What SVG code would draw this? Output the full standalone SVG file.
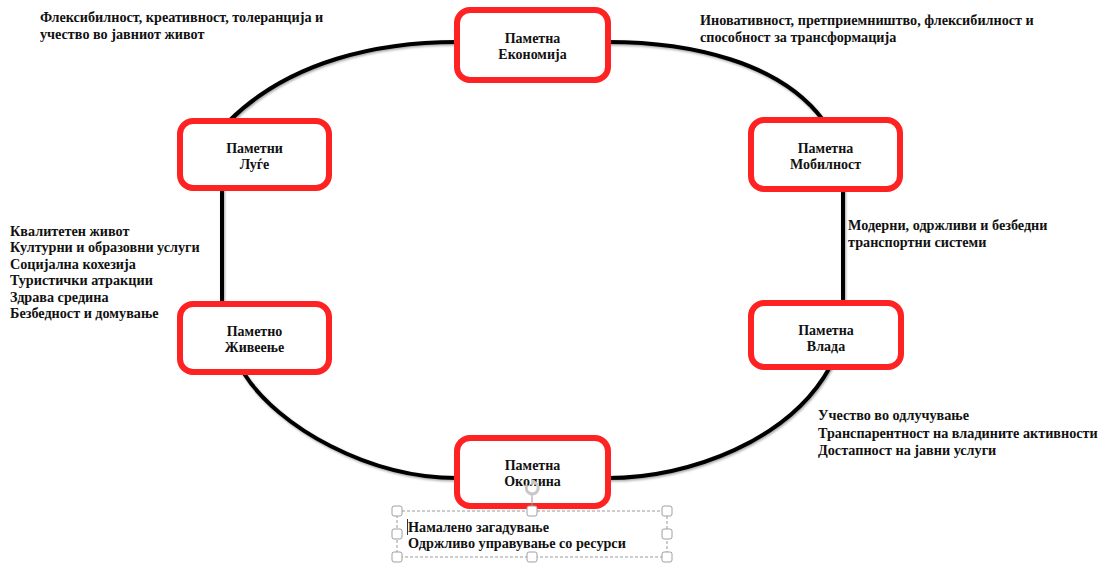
<svg xmlns="http://www.w3.org/2000/svg" width="1101" height="563" viewBox="0 0 1101 563">
<style>
.box{fill:#fff;stroke:#ff2222;stroke-width:6}
.lbl{font-family:"Liberation Serif","Times New Roman",serif;font-weight:bold;font-size:14px;fill:#111;text-anchor:middle}
.note{font-family:"Liberation Serif","Times New Roman",serif;font-weight:bold;font-size:14.2px;fill:#111}
.conn{fill:none;stroke:#000;stroke-width:4;stroke-linecap:round}
.hdl{fill:#fff;stroke:#a0a0a0;stroke-width:1}
</style>
<defs>
<filter id="sh" x="-10%" y="-10%" width="120%" height="120%">
<feDropShadow dx="1" dy="1.5" stdDeviation="1" flood-color="#000" flood-opacity="0.35"/>
</filter>
</defs>
<rect width="1101" height="563" fill="#fff"/>
<g id="connectors" filter="url(#sh)">
<path class="conn" d="M228,122 C290,60 380,42 457,42"/>
<path class="conn" d="M608,42 C690,42 780,62 823,120"/>
<path class="conn" d="M222,188 L222,304"/>
<path class="conn" d="M843,189 L843,303"/>
<path class="conn" d="M243,372 C278,428 370,478 457,478"/>
<path class="conn" d="M608,478 C690,478 790,440 830,367"/>
</g>
<g id="node-economy">
<rect class="box" x="457" y="10" width="151" height="70" rx="13"/>
<text class="lbl" x="532.5" y="43">Паметна</text>
<text class="lbl" x="532.5" y="59">Економија</text>
</g>
<g id="node-people">
<rect class="box" x="180" y="121" width="149" height="67" rx="13"/>
<text class="lbl" x="254.5" y="153">Паметни</text>
<text class="lbl" x="254.5" y="169">Луѓе</text>
</g>
<g id="node-mobility">
<rect class="box" x="751" y="120" width="149" height="69" rx="13"/>
<text class="lbl" x="825.5" y="153">Паметна</text>
<text class="lbl" x="825.5" y="169">Мобилност</text>
</g>
<g id="node-living">
<rect class="box" x="180" y="304" width="149" height="68" rx="13"/>
<text class="lbl" x="254.5" y="336">Паметно</text>
<text class="lbl" x="254.5" y="352">Живеење</text>
</g>
<g id="node-government">
<rect class="box" x="751" y="303" width="150" height="64" rx="13"/>
<text class="lbl" x="826" y="335">Паметна</text>
<text class="lbl" x="826" y="351">Влада</text>
</g>
<g id="node-environment">
<rect class="box" x="457" y="438" width="151" height="68" rx="13"/>
<text class="lbl" x="532.5" y="470">Паметна</text>
<text class="lbl" x="532.5" y="486">Околина</text>
</g>
<g id="notes">
<text class="note" x="40" y="22">Флексибилност, креативност, толеранција и</text>
<text class="note" x="40" y="39">учество во јавниот живот</text>
<text class="note" x="700" y="25">Иновативност, претприемништво, флексибилност и</text>
<text class="note" x="700" y="42">способност за трансформација</text>
<text class="note" x="10" y="236">Квалитетен живот</text>
<text class="note" x="10" y="252">Културни и образовни услуги</text>
<text class="note" x="10" y="269">Социјална кохезија</text>
<text class="note" x="10" y="285">Туристички атракции</text>
<text class="note" x="10" y="302">Здрава средина</text>
<text class="note" x="10" y="318">Безбедност и домување</text>
<text class="note" x="848" y="230">Модерни, одржливи и безбедни</text>
<text class="note" x="848" y="247">транспортни системи</text>
<text class="note" x="818" y="420">Учество во одлучување</text>
<text class="note" x="818" y="438">Транспарентност на владините активности</text>
<text class="note" x="818" y="455">Достапност на јавни услуги</text>
</g>
<g id="selection">
<rect x="397" y="511" width="270" height="46" fill="none" stroke="#999" stroke-width="1" stroke-dasharray="3,2"/>
<line x1="532" y1="495" x2="532" y2="506" stroke="#999" stroke-width="1"/>
<path d="M527,485 A6,6 0 1 0 533,482" fill="none" stroke="#c8c8c8" stroke-width="3"/>
<path d="M531,479 L536,482 L531,485 Z" fill="#c8c8c8"/>
<rect class="hdl" x="392" y="506" width="10" height="10" rx="2"/>
<rect class="hdl" x="527" y="506" width="10" height="10" rx="2"/>
<rect class="hdl" x="662" y="506" width="10" height="10" rx="2"/>
<rect class="hdl" x="392" y="529" width="10" height="10" rx="2"/>
<rect class="hdl" x="662" y="529" width="10" height="10" rx="2"/>
<rect class="hdl" x="392" y="552" width="10" height="10" rx="2"/>
<rect class="hdl" x="527" y="552" width="10" height="10" rx="2"/>
<rect class="hdl" x="662" y="552" width="10" height="10" rx="2"/>
<line x1="407.5" y1="519" x2="407.5" y2="535" stroke="#333" stroke-width="1"/>
<text class="note" x="408" y="532">Намалено загадување</text>
<text class="note" x="408" y="548">Одржливо управување со ресурси</text>
</g>
</svg>
